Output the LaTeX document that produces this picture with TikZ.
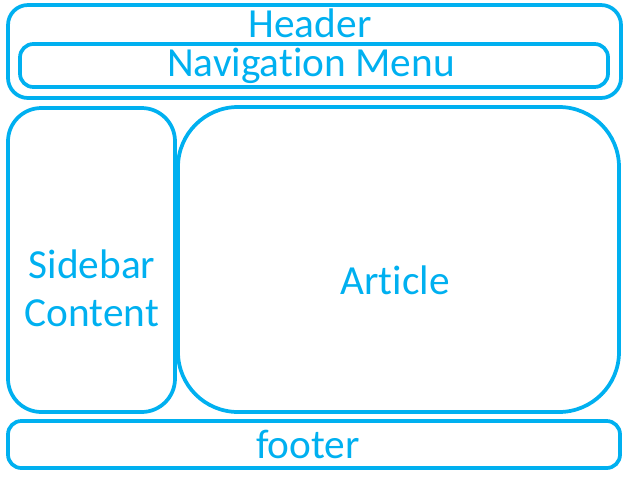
\documentclass[tikz,border=0pt]{standalone}
\usepackage{fontspec}
\setmainfont{Carlito}[Ligatures=NoCommon]
\usetikzlibrary{positioning}
\definecolor{layoutblue}{RGB}{0,176,240}

\begin{document}
\begin{tikzpicture}[x=0.75pt,y=-0.75pt,
    region/.style={draw=layoutblue, line width=2.8pt},
    label/.style={text=layoutblue, anchor=base, inner sep=0pt,
      font=\fontsize{31}{36}\selectfont, align=center}]
    \useasboundingbox (0,0) rectangle (638,479);

    % page regions
    \draw[region, rounded corners=15] (8,5) rectangle (621,98);
    \draw[region, rounded corners=10] (20,44) rectangle (608,87);
    \draw[region, rounded corners=25] (8,108) rectangle (175,412);
    \draw[region, rounded corners=45] (178,107) rectangle (619,412);
    \draw[region, rounded corners=10] (8,421) rectangle (620,468);

    % labels
    \node[label] (header) at (310,37) {Header};
    \node[label] (nav) at (311,76) {Navigation Menu};
    \node[label] (sidebar) at (92,278) {Sidebar};
    \node[label] (content) at (92,326) {Content};
    \node[label] (article) at (395,294) {Article};
    \node[label] (footer) at (308,458) {footer};
\end{tikzpicture}
\end{document}
